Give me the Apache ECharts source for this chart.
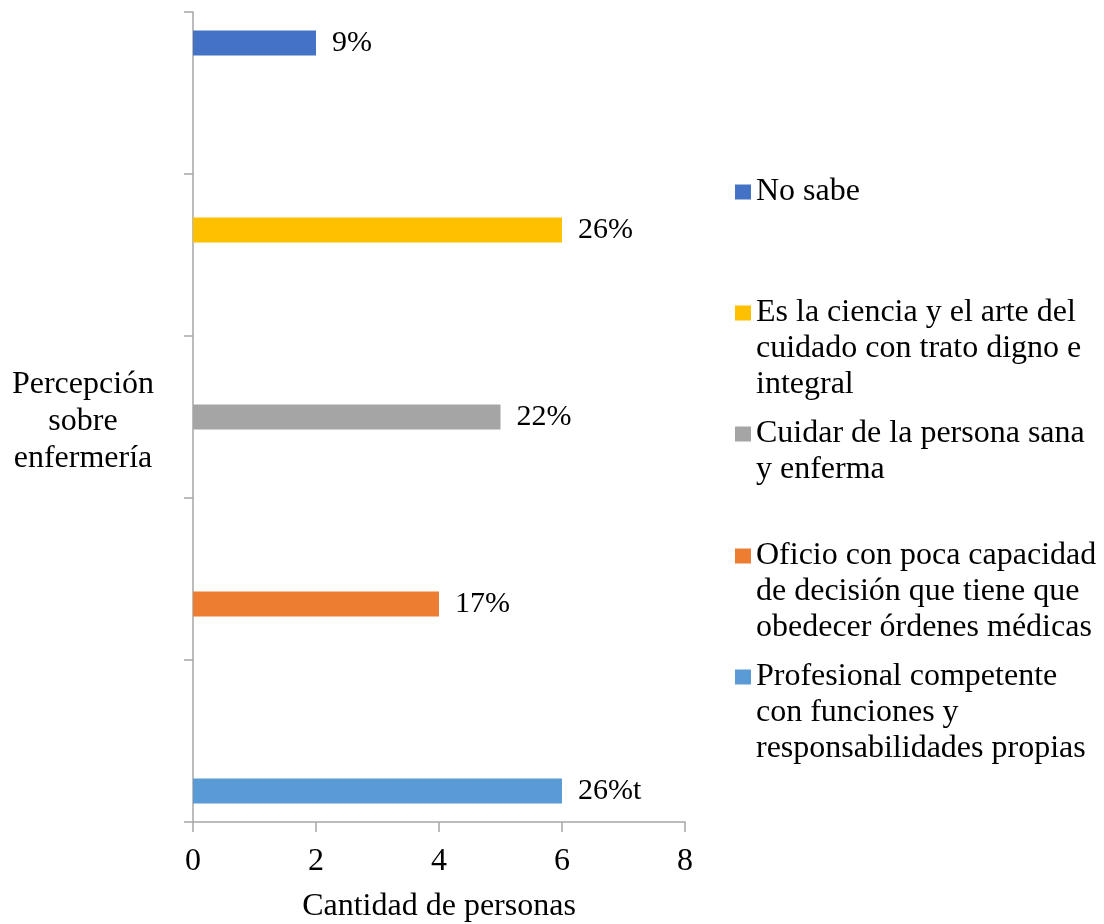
<!DOCTYPE html>
<html>
<head>
<meta charset="utf-8">
<script src="https://cdn.jsdelivr.net/npm/echarts@6/dist/echarts.min.js"></script>
<style>
  html, body { margin: 0; padding: 0; background: #ffffff; }
  #chart { width: 1104px; height: 924px; }
</style>
</head>
<body>
<div id="chart"></div>
<script>
// Answers, listed in legend order (top to bottom)
const seriesNames = [
  'No sabe',
  'Es la ciencia y el arte del cuidado con trato digno e integral',
  'Cuidar de la persona sana y enferma',
  'Oficio con poca capacidad de decisión que tiene que obedecer órdenes médicas',
  'Profesional competente con funciones y responsabilidades propias'
];
// Wrapped legend text
const legendLines = [
  ['No sabe'],
  ['Es la ciencia y el arte del', 'cuidado con trato digno e', 'integral'],
  ['Cuidar de la persona sana', 'y enferma'],
  ['Oficio con poca capacidad', 'de decisión que tiene que', 'obedecer órdenes médicas'],
  ['Profesional competente', 'con funciones y', 'responsabilidades propias']
];
// Number of people per answer
const counts = [2, 6, 5, 4, 6];
// Share of respondents shown next to each bar
const percentLabels = ['9%', '26%', '22%', '17%', '26%t'];
const colors = ['#4472C4', '#FFC000', '#A5A5A5', '#ED7D31', '#5B9BD5'];
// Category slots on the vertical axis, bottom to top
const categories = [
  'Profesional competente',
  'Oficio',
  'Cuidar',
  'Ciencia y arte',
  'No sabe'
];
const xTicks = { min: 0, max: 8, interval: 2 };
const yAxisTitle = ['Percepción', 'sobre', 'enfermería'];
const xAxisTitle = 'Cantidad de personas';

const FONT = "'Liberation Serif', 'Times New Roman', serif";
const LINE_H = 36;
const legendIconCenters = [192, 313, 434, 556, 677];

const series = seriesNames.map(function (name, i) {
  const slot = categories.length - 1 - i;
  const data = categories.map(function (c, j) {
    return j === slot ? { value: counts[i], label: { formatter: percentLabels[i] } } : '-';
  });
  return {
    name: name,
    type: 'bar',
    data: data,
    barWidth: 25,
    barGap: '0%',
    itemStyle: { color: colors[i] },
    label: {
      show: true,
      position: 'right',
      distance: 16,
      color: '#000',
      fontFamily: FONT,
      fontSize: 30
    }
  };
});

// One legend per answer so each sits at its own height; blank lines above the
// text keep the marker level with the first line of a wrapped label.
const legends = seriesNames.map(function (name, i) {
  const n = legendLines[i].length;
  const boxH = (2 * n - 1) * LINE_H;
  const text = new Array(n).join('\n') + legendLines[i].join('\n');
  return {
    data: [name],
    left: 735,
    top: legendIconCenters[i] - boxH / 2,
    padding: 0,
    itemWidth: 16,
    itemHeight: 15,
    icon: 'rect',
    selectedMode: false,
    formatter: function () { return text; },
    textStyle: {
      fontFamily: FONT,
      fontSize: 32,
      color: '#000',
      lineHeight: LINE_H
    }
  };
});

const chart = echarts.init(document.getElementById('chart'));
chart.setOption({
  backgroundColor: '#ffffff',
  animation: false,
  grid: { left: 193, right: 419, top: 12, bottom: 102, outerBoundsMode: 'none', containLabel: false },
  legend: legends,
  xAxis: {
    type: 'value',
    min: xTicks.min,
    max: xTicks.max,
    interval: xTicks.interval,
    name: xAxisTitle,
    nameLocation: 'middle',
    nameGap: 85,
    nameTextStyle: { fontFamily: FONT, fontSize: 32, color: '#000', verticalAlign: 'middle' },
    axisLine: { show: true, lineStyle: { color: '#A6A6A6', width: 1.5 } },
    axisTick: { show: true, length: 10, lineStyle: { color: '#A6A6A6', width: 1.5 } },
    axisLabel: { fontFamily: FONT, fontSize: 32, color: '#000', margin: 24 },
    splitLine: { show: false }
  },
  yAxis: {
    type: 'category',
    data: categories,
    // a thin empty first row nudges the centred title slightly downward
    name: '{s|}\n' + yAxisTitle.join('\n'),
    nameLocation: 'middle',
    nameRotate: 0,
    nameGap: 110,
    nameTextStyle: {
      fontFamily: FONT, fontSize: 32, color: '#000',
      align: 'center', verticalAlign: 'middle', lineHeight: 37,
      rich: { s: { fontSize: 1, lineHeight: 10 } }
    },
    axisLine: { show: true, lineStyle: { color: '#A6A6A6', width: 1.5 } },
    axisTick: { show: true, length: 9, alignWithLabel: false, lineStyle: { color: '#A6A6A6', width: 1.5 } },
    axisLabel: { show: false },
    splitLine: { show: false }
  },
  series: series
});
</script>
</body>
</html>
